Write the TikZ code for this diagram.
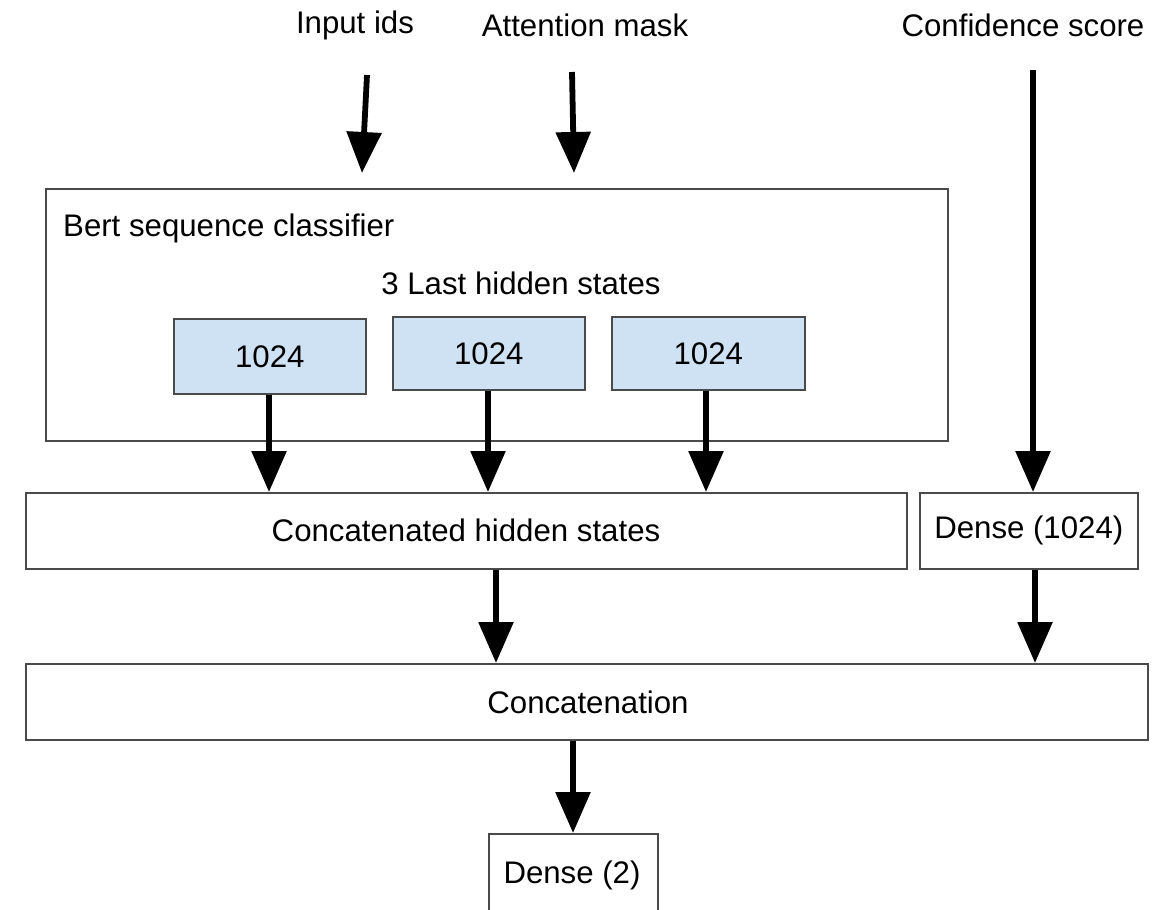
\documentclass[tikz,border=0pt]{standalone}
\usepackage{fontspec}
\setmainfont{Liberation Sans}
\usetikzlibrary{arrows.meta}
\definecolor{boxline}{HTML}{4A4A4A}
\definecolor{stateblue}{HTML}{CFE2F3}
\tikzset{
  box/.style={draw=boxline, line width=1.6pt, fill=white, inner sep=0pt, anchor=north west},
  statebox/.style={box, fill=stateblue},
  lbl/.style={font=\fontsize{31.2}{35}\selectfont, text=black, inner sep=0pt},
  arr/.style={line width=5.8pt, -{Triangle[length=41pt, width=34pt]}, shorten >=0pt}
}
\begin{document}
\begin{tikzpicture}[x=1pt, y=-1pt]
\useasboundingbox (0,0) rectangle (1167,910);

% inputs
\node[lbl] (ids)  at (355,25) {Input ids};
\node[lbl] (mask) at (585,25) {Attention mask};
\node[lbl] (conf) at (1023,25) {Confidence score};
\coordinate (idsA) at (367,75);
\coordinate (idsB) at (362,173);
\coordinate (maskA) at (572,72);
\coordinate (maskB) at (574,173);
\coordinate (confA) at (1033,70);

% encoder
\node[box, minimum width=902pt, minimum height=252pt] (bert) at (45,188) {};
\node[lbl, anchor=west] (bertlbl) at (63,228) {Bert sequence classifier};
\node[lbl] (last) at (521,283) {3 Last hidden states};
\node[statebox, minimum width=192pt, minimum height=75pt] (h1) at (173,318) {};
\node[lbl] at (h1.center) {1024};
\node[statebox, minimum width=192pt, minimum height=73pt] (h2) at (392,316) {};
\node[lbl] at (h2.center) {1024};
\node[statebox, minimum width=193pt, minimum height=73pt] (h3) at (611,316) {};
\node[lbl] at (h3.center) {1024};

% heads
\node[box, minimum width=881pt, minimum height=76pt] (chs) at (25,492) {};
\node[lbl] at (466,530) {Concatenated hidden states};
\node[box, minimum width=218pt, minimum height=76pt] (dense1) at (919,492) {};
\node[lbl] at (dense1.center) {Dense (1024)};
\node[box, minimum width=1122pt, minimum height=76pt] (cat) at (25,663) {};
\node[lbl] at (588,702) {Concatenation};
\node[box, minimum width=169pt, minimum height=80pt] (dense2) at (488,833) {};
\node[lbl] at (572,875) {Dense (2)};

% connectors
\draw[arr] (idsA) -- (idsB);
\draw[arr] (maskA) -- (maskB);
\draw[arr] (confA) -- (confA |- dense1.north);
\draw[arr] (h1.south -| 269,0) -- (chs.north -| 269,0);
\draw[arr] (h2.south -| 488,0) -- (chs.north -| 488,0);
\draw[arr] (h3.south -| 706,0) -- (chs.north -| 706,0);
\draw[arr] (chs.south -| 496,0) -- (cat.north -| 496,0);
\draw[arr] (dense1.south -| 1035,0) -- (cat.north -| 1035,0);
\draw[arr] (cat.south -| 573,0) -- (dense2.north -| 573,0);
\end{tikzpicture}
\end{document}
